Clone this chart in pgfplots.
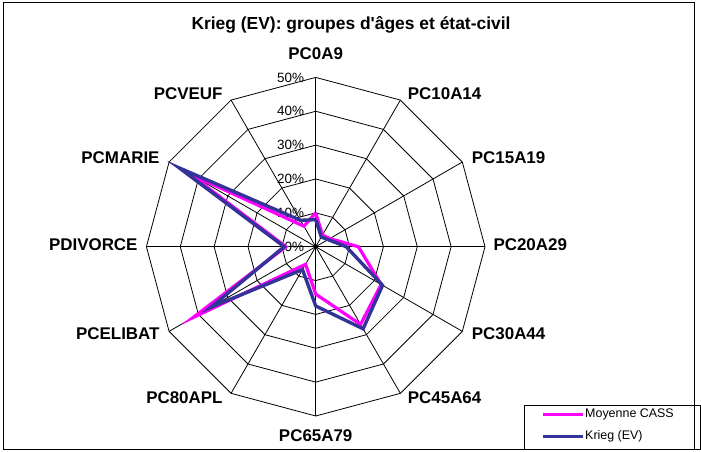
\documentclass[border=0pt]{standalone}
\usepackage{pgfplots}
\pgfplotsset{compat=1.18}
\usepackage{fontspec}
\setmainfont{Liberation Sans}
\definecolor{cassmag}{RGB}{255,0,255}
\definecolor{kriegblue}{RGB}{51,51,153}
\begin{document}
\begin{tikzpicture}
\begin{axis}[
  x=3.386bp, y=3.386bp,
  scale only axis,
  xmin=-93.24, xmax=113.79,
  ymin=-60.34, ymax=72.86,
  hide axis,
  clip=false,
]
\path (rel axis cs:0,0) rectangle (rel axis cs:1,1);
% outer frame
\draw[black, line width=0.9bp] (axis cs:-92.35,-59.75) rectangle (axis cs:111.73,72.12);
% rings
\pgfplotsinvokeforeach{10,20,30,40,50}{
  \addplot[data cs=polar, black, line width=0.8bp, mark=none] coordinates {(90,#1) (60,#1) (30,#1) (0,#1) (-30,#1) (-60,#1) (-90,#1) (-120,#1) (-150,#1) (180,#1) (150,#1) (120,#1) (90,#1)};
}
% spokes
\pgfplotsinvokeforeach{90,60,30,0,-30,-60,-90,-120,-150,180,150,120}{
  \addplot[data cs=polar, black, line width=0.8bp, mark=none] coordinates {(#1,0) (#1,50)};
}
\addplot[only marks, mark=*, mark size=2bp, black] coordinates {(0,0)};
% tick labels
\pgfplotsinvokeforeach{0,10,20,30,40,50}{
  \node[anchor=east, inner sep=0pt, font=\fontsize{13.5}{15}\selectfont] at (axis cs:-3.37,#1) {#1\%};
}
% data
\addplot[data cs=polar, cassmag, line width=3.2bp, mark=none] coordinates {
 (90,10) (60,4) (30,4.8) (0,12.6) (-30,22.3) (-60,26.5) (-90,14) (-120,6) (-150,41.8) (180,8.8) (150,43) (120,7) (90,10)};
\addplot[data cs=polar, kriegblue, line width=3.4bp, mark=none] coordinates {
 (90,8) (60,3.3) (30,4.2) (0,9) (-30,22.8) (-60,28) (-90,17.5) (-120,7.8) (-150,35.7) (180,9.3) (150,46.5) (120,9) (90,8)};
% category labels
\node[inner sep=0pt, font=\fontsize{17}{19}\selectfont\bfseries, anchor=center] at (axis cs:0,56.9) {PC0A9};
\node[inner sep=0pt, font=\fontsize{17}{19}\selectfont\bfseries, anchor=west] at (axis cs:27.17,45.1) {PC10A14};
\node[inner sep=0pt, font=\fontsize{17}{19}\selectfont\bfseries, anchor=west] at (axis cs:46.07,26.34) {PC15A19};
\node[inner sep=0pt, font=\fontsize{17}{19}\selectfont\bfseries, anchor=west] at (axis cs:52.45,0.5) {PC20A29};
\node[inner sep=0pt, font=\fontsize{17}{19}\selectfont\bfseries, anchor=west] at (axis cs:46.07,-25.78) {PC30A44};
\node[inner sep=0pt, font=\fontsize{17}{19}\selectfont\bfseries, anchor=west] at (axis cs:27.17,-44.68) {PC45A64};
\node[inner sep=0pt, font=\fontsize{17}{19}\selectfont\bfseries, anchor=center] at (axis cs:0,-55.9) {PC65A79};
\node[inner sep=0pt, font=\fontsize{17}{19}\selectfont\bfseries, anchor=east] at (axis cs:-27.47,-44.68) {PC80APL};
\node[inner sep=0pt, font=\fontsize{17}{19}\selectfont\bfseries, anchor=east] at (axis cs:-46.07,-25.78) {PCELIBAT};
\node[inner sep=0pt, font=\fontsize{17}{19}\selectfont\bfseries, anchor=east] at (axis cs:-52.57,0.5) {PDIVORCE};
\node[inner sep=0pt, font=\fontsize{17}{19}\selectfont\bfseries, anchor=east] at (axis cs:-46.07,26.34) {PCMARIE};
\node[inner sep=0pt, font=\fontsize{17}{19}\selectfont\bfseries, anchor=east] at (axis cs:-27.47,45.1) {PCVEUF};
% title
\node[inner sep=0pt, font=\fontsize{17.5}{20}\selectfont\bfseries] at (axis cs:10.43,65.62) {Krieg (EV): groupes d\textquotesingle âges et état-civil};
% legend
\draw[black, line width=0.9bp] (axis cs:61.52,-59.89) rectangle (axis cs:113.64,-46.75);
\draw[cassmag, line width=3bp] (axis cs:67.13,-49.41) -- (axis cs:78.94,-49.41);
\draw[kriegblue, line width=3bp] (axis cs:67.13,-55.91) -- (axis cs:78.94,-55.91);
\node[anchor=west, inner sep=0pt, font=\fontsize{12.5}{14}\selectfont] at (axis cs:79.53,-49.41) {Moyenne CASS};
\node[anchor=west, inner sep=0pt, font=\fontsize{12.5}{14}\selectfont] at (axis cs:79.53,-55.91) {Krieg (EV)};
\end{axis}
\end{tikzpicture}
\end{document}
